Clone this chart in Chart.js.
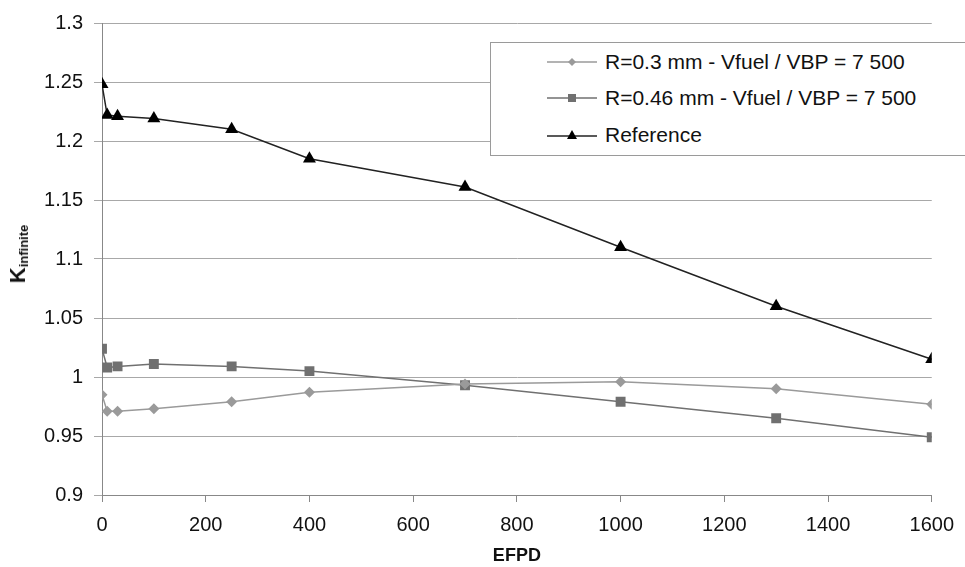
<!DOCTYPE html>
<html>
<head>
<meta charset="utf-8">
<script src="https://cdn.jsdelivr.net/npm/chart.js@4.4.1/dist/chart.umd.min.js"></script>
<style>
  html, body { margin: 0; padding: 0; background: #fff; overflow: hidden; }
  #wrap { position: relative; width: 965px; height: 567px; }
  #legend {
    position: absolute; left: 490px; top: 42px; width: 500px; height: 114px;
    border: 1px solid #9a9a9a; background: #fff; box-sizing: border-box;
    font-family: "Liberation Sans", Arial, sans-serif; font-size: 21px; color: #111;
  }
  .item { position: absolute; left: 56px; height: 24px; display: flex; align-items: center; }
  .item svg { margin-right: 6px; }
  #ytitle {
    position: absolute; left: 18px; top: 254px; transform: translate(-50%, -50%) rotate(-90deg);
    font-family: "Liberation Sans", Arial, sans-serif; font-weight: bold; font-size: 22px; color: #111;
    white-space: nowrap;
  }
  #ytitle sub { font-size: 13px; vertical-align: -3px; }
</style>
</head>
<body>
<div id="wrap">
  <canvas id="kinfChart" width="965" height="567"></canvas>
  <div id="ytitle">K<sub>infinite</sub></div>
  <div id="legend">
    <div class="item" style="top:7px">
      <svg width="52" height="14"><line x1="0" y1="7" x2="50" y2="7" stroke="#9a9a9a" stroke-width="1.5"/><path d="M25 3 L29 7 L25 11 L21 7 Z" fill="#9a9a9a"/></svg>
      <span>R=0.3 mm - Vfuel / VBP = 7 500</span>
    </div>
    <div class="item" style="top:43px">
      <svg width="52" height="14"><line x1="0" y1="7" x2="50" y2="7" stroke="#707070" stroke-width="1.5"/><rect x="21" y="3" width="8" height="8" fill="#707070"/></svg>
      <span>R=0.46 mm - Vfuel / VBP = 7 500</span>
    </div>
    <div class="item" style="top:80px">
      <svg width="52" height="14"><line x1="0" y1="8" x2="50" y2="8" stroke="#222" stroke-width="1.5"/><path d="M25 2 L30 11 L20 11 Z" fill="#000"/></svg>
      <span>Reference</span>
    </div>
  </div>
</div>
<script>
const efpd = [0, 10, 30, 100, 250, 400, 700, 1000, 1300, 1600];
const r03 = [0.985, 0.971, 0.971, 0.973, 0.979, 0.987, 0.994, 0.996, 0.990, 0.977];
const r046 = [1.024, 1.008, 1.009, 1.011, 1.009, 1.005, 0.993, 0.979, 0.965, 0.949];
const reference = [1.248, 1.222, 1.221, 1.219, 1.210, 1.185, 1.161, 1.110, 1.060, 1.015];
const seriesNames = ['R=0.3 mm - Vfuel / VBP = 7 500', 'R=0.46 mm - Vfuel / VBP = 7 500', 'Reference'];

const toPoints = (ys) => efpd.map((x, i) => ({ x: x, y: ys[i] }));
const font = { family: 'Liberation Sans, Arial, sans-serif', size: 20 };

new Chart(document.getElementById('kinfChart').getContext('2d'), {
  type: 'line',
  data: {
    datasets: [
      { label: seriesNames[0], data: toPoints(r03), borderColor: '#9a9a9a', backgroundColor: '#9a9a9a', borderWidth: 1.5, pointStyle: 'rectRot', pointRadius: 5.5, pointBorderWidth: 0, tension: 0 },
      { label: seriesNames[1], data: toPoints(r046), borderColor: '#707070', backgroundColor: '#707070', borderWidth: 1.5, pointStyle: 'rect', pointRadius: 7, pointBorderWidth: 0, tension: 0 },
      { label: seriesNames[2], data: toPoints(reference), borderColor: '#222', backgroundColor: '#000', borderWidth: 1.5, pointStyle: 'triangle', pointRadius: 7.5, pointBorderWidth: 0, tension: 0 },
    ],
  },
  options: {
    responsive: false,
    animation: false,
    layout: { padding: { top: 21, right: 32, left: 0, bottom: 0 } },
    plugins: { legend: { display: false }, tooltip: { enabled: false } },
    scales: {
      x: {
        type: 'linear', min: 0, max: 1600,
        ticks: { stepSize: 200, color: '#111', font: font, padding: 11, maxRotation: 0, callback: (v) => String(v) },
        grid: { drawOnChartArea: false, drawTicks: true, tickLength: 7, color: '#888' },
        border: { color: '#888' },
        title: { display: true, text: 'EFPD', color: '#111', font: { family: 'Liberation Sans, Arial, sans-serif', size: 18, weight: 'bold' }, padding: 0 },
        afterFit: (axis) => { axis.height = 72; },
      },
      y: {
        min: 0.9, max: 1.3,
        ticks: { stepSize: 0.05, color: '#111', font: font, padding: 11, callback: (v) => String(+v.toFixed(2)) },
        grid: { color: '#a8a8a8', tickLength: 8, drawTicks: true },
        border: { color: '#888' },
        afterFit: (axis) => { axis.width = 102; },
      },
    },
  },
});
</script>
</body>
</html>
